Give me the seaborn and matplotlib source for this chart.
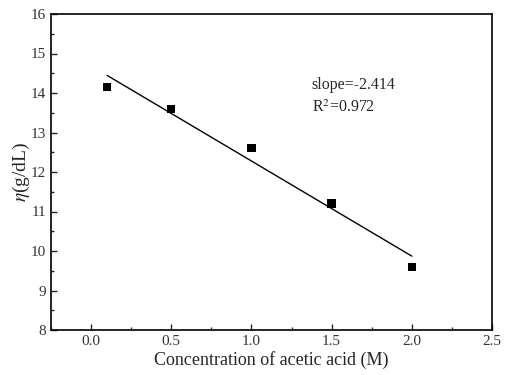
import matplotlib
matplotlib.use("Agg")
import matplotlib.pyplot as plt
import seaborn as sns
import pandas as pd
from matplotlib.ticker import MultipleLocator

conc = [0.1, 0.5, 1.0, 1.5, 2.0]
eta = [14.15, 13.6, 12.6, 11.2, 9.6]
x_ticks = [0.0, 0.5, 1.0, 1.5, 2.0, 2.5]
y_ticks = [8, 9, 10, 11, 12, 13, 14, 15, 16]

sns.set_style("ticks")
plt.rcParams['font.family'] = ['Liberation Serif', 'DejaVu Serif']
plt.rcParams['mathtext.fontset'] = 'stix'

df = pd.DataFrame({"conc": conc, "eta": eta})

fig = plt.figure(figsize=(5.07, 3.75), dpi=100)
ax = fig.add_axes([51/507, 1-330/375, (492-51)/507, (330-14)/375])
sns.regplot(data=df, x="conc", y="eta", ax=ax, ci=None, marker="s",
            scatter_kws=dict(s=36, color="black", alpha=1, edgecolors="none", zorder=3),
            line_kws=dict(color="black", lw=1.0))

ax.set_xlim(-0.25, 2.5)
ax.set_ylim(8, 16)
ax.set_xticks(x_ticks)
ax.set_yticks(y_ticks)
ax.set_xticklabels([f"{v:.1f}" for v in x_ticks])
ax.set_yticklabels([str(v) for v in y_ticks])
ax.xaxis.set_minor_locator(MultipleLocator(0.25))
ax.yaxis.set_minor_locator(MultipleLocator(0.5))
ax.tick_params(which="both", direction="in", top=False, right=False,
               labelsize=11, labelcolor="#333333", width=1.0)
ax.tick_params(which="major", length=4)
ax.tick_params(which="minor", length=2.5)
for s in ax.spines.values():
    s.set_linewidth(1.2)
    s.set_color("black")

ax.set_xlabel("Concentration of acetic acid (M)", fontsize=13, labelpad=2)
ax.set_ylabel(r"$\eta$(g/dL)", fontsize=14, labelpad=-1)

ax.text(1.376, 14.2, "slope=-2.414", fontsize=11.5, va="center", ha="left")
ax.text(1.376, 13.62, r"R$^2$=0.972", fontsize=11.5, va="center", ha="left")

fig.savefig("out.png", dpi=100, facecolor="white")
